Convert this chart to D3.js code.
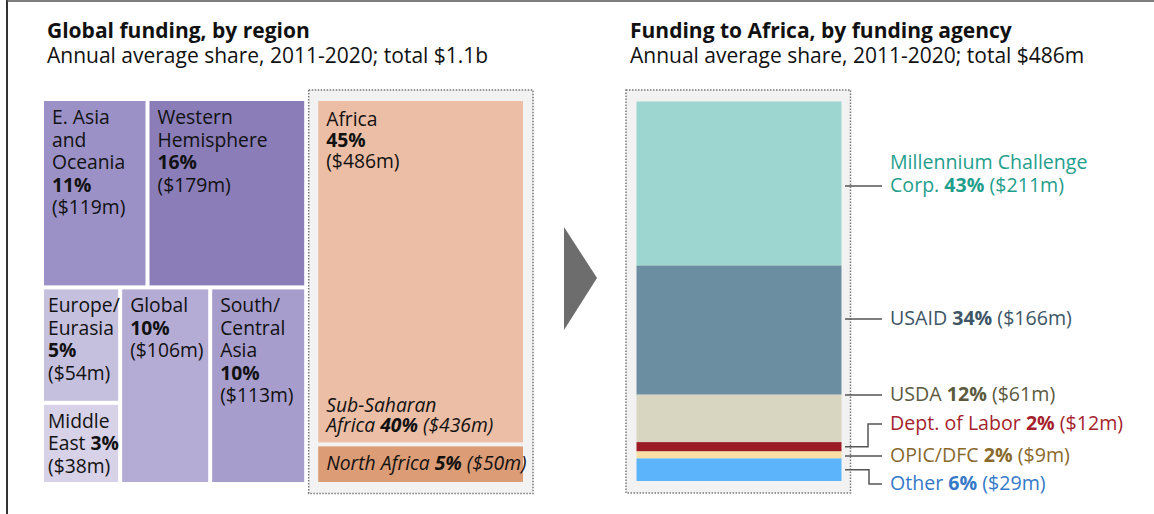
<!DOCTYPE html>
<html>
<head>
<meta charset="utf-8">
<script src="https://cdn.jsdelivr.net/npm/d3@7"></script>
<style>
body{margin:0;background:#fff;}
svg{display:block;font-family:"Open Sans",sans-serif;}
</style>
</head>
<body>
<svg class="myChart" width="1154" height="514"></svg>
<script>
// ---- data ----
const regions = ["E. Asia and Oceania","Western Hemisphere","Europe/Eurasia","Middle East","Global","South/Central Asia","Sub-Saharan Africa","North Africa"];
const regionValues = [119,179,54,38,106,113,436,50];
const regionShares = [11,16,5,3,10,10,40,5];
const regionNameLines = [["E. Asia","and","Oceania"],["Western","Hemisphere"],["Europe/","Eurasia"],["Middle","East"],["Global"],["South/","Central","Asia"],["Sub-Saharan","Africa"],["North Africa"]];
const regionColors = ["#9c91c6","#8a7db8","#c6c0df","#d7d2e8","#b5acd5","#a79dcc","#ecbea6","#dc9c76"];
const africaTotal = 486, africaShare = 45;

const agencies = ["Millennium Challenge Corp.","USAID","USDA","Dept. of Labor","OPIC/DFC","Other"];
const agencyValues = [211,166,61,12,9,29];
const agencyShares = [43,34,12,2,2,6];
const agencyNameLines = [["Millennium Challenge","Corp."],["USAID"],["USDA"],["Dept. of Labor"],["OPIC/DFC"],["Other"]];
const agencyColors = ["#9dd6d0","#6b8ea0","#d8d5c0","#9a1b24","#f8dfa4","#5cb4fb"];
const agencyTextColors = ["#1f9e8c","#3e5566","#5c5a3e","#a51f2e","#8a6a2c","#3579c8"];

// label layout (baseline of last label line, elbow x)
const agencyLabelY = [192,325,401,430,462,490];
const agencyElbowX = [862,862,862,868,868,869];

const svg = d3.select('svg.myChart');
const titleSize = 21, labelSize = 19.3, agencySize = 19.6;

// frame
svg.append('line').attr('x1',7).attr('x2',7).attr('y1',0).attr('y2',514).attr('stroke','#333').attr('stroke-width',2);
svg.append('line').attr('x1',7).attr('x2',1154).attr('y1',1).attr('y2',1).attr('stroke','#555').attr('stroke-width',1.5);

// titles
const titles = [
  {x:47, t:"Global funding, by region", s:"Annual average share, 2011-2020; total $1.1b"},
  {x:630, t:"Funding to Africa, by funding agency", s:"Annual average share, 2011-2020; total $486m"}
];
titles.forEach(d => {
  svg.append('text').attr('x',d.x).attr('y',38).attr('font-size',titleSize).attr('font-weight','bold').attr('fill','#111').text(d.t);
  svg.append('text').attr('x',d.x).attr('y',63).attr('font-size',titleSize).attr('fill','#111').text(d.s);
});

// helper: lines of segments
function drawLines(g, x, y, lines, lh, opts) {
  lines.forEach((segs, i) => {
    const t = g.append('text').attr('x',x).attr('y',y + i*lh).attr('font-size',opts.size||labelSize)
      .attr('fill',opts.color||'#111');
    if (opts.italic) t.attr('font-style','italic');
    segs.forEach(s => t.append('tspan').attr('font-weight', s.b ? 'bold' : null).text(s.t));
  });
}

// ---- treemap ----
const leaf = i => ({name:regions[i], i:i, value:regionValues[i]});
const tree = {name:"root", children:[
  {name:"rest", children:[
    {name:"top", children:[leaf(0), leaf(1)]},
    {name:"bottom", children:[{name:"col", children:[leaf(2), leaf(3)]}, leaf(4), leaf(5)]}
  ]},
  {name:"Africa", children:[leaf(6), leaf(7)]}
]};

const root = d3.hierarchy(tree).sum(d => d.value || 0);
d3.treemap()
  .tile(d3.treemapSliceDice)
  .size([523-44, 482-101])
  .paddingInner(n => n.depth === 0 ? 14 : 4)
  (root);

const tg = svg.append('g').attr('transform','translate(44,101)');

const africa = root.children[1];
tg.append('rect')
  .attr('x',africa.x0-9.5).attr('y',africa.y0-11)
  .attr('width',africa.x1-africa.x0+19.5).attr('height',africa.y1-africa.y0+22.5)
  .attr('fill','#f2f2f2').attr('stroke','#777').attr('stroke-width',1.5).attr('stroke-dasharray','1.5,1.5');

const leaves = root.leaves();
tg.selectAll('rect.cell').data(leaves).enter().append('rect').attr('class','cell')
  .attr('x',d => d.x0).attr('y',d => d.y0)
  .attr('width',d => d.x1-d.x0).attr('height',d => d.y1-d.y0)
  .attr('fill',d => regionColors[d.data.i]);

leaves.forEach(d => {
  const i = d.data.i;
  const w = d.x1 - d.x0, h = d.y1 - d.y0;
  const pct = regionShares[i] + "%", val = "($" + regionValues[i] + "m)";
  const names = regionNameLines[i].map(n => [{t:n}]);
  const x = d.x0 + (w < 80 ? 4 : 8);
  if (d.parent === africa) {
    names[names.length-1].push({t:" "+pct, b:true}, {t:" "+val});
    if (names.length > 1) {
      drawLines(tg, x, d.y1 - 10 - (names.length-1)*20.5, names, 20.5, {italic:true});
      drawLines(tg, x, d.y0 + 25, [[{t:"Africa"}],[{t:africaShare+"%", b:true}],[{t:"($"+africaTotal+"m)"}]], 21, {});
    } else {
      drawLines(tg, x, (d.y0+d.y1)/2 + 6, names, 20, {italic:true});
    }
  } else if (h < 100) {
    names[names.length-1].push({t:" "+pct, b:true});
    names.push([{t:val}]);
    drawLines(tg, x, d.y0 + 23, names, 22.5, {});
  } else {
    names.push([{t:pct, b:true}], [{t:val}]);
    drawLines(tg, x, d.y0 + 23, names, 22.5, {});
  }
});

// arrow
svg.append('path').attr('d','M564,227 L597,278 L564,330 Z').attr('fill','#6d6d6d');

// ---- stacked bar ----
const y = d3.scaleLinear().domain([0, d3.sum(agencyValues)]).range([101.5, 481]);
const x = d3.scaleBand().domain(["Africa"]).range([636.5, 841.5]);
const stack = [];
agencyValues.reduce((acc, v, i) => { stack.push({i:i, a:acc, b:acc+v}); return acc+v; }, 0);

svg.append('rect').attr('x',626).attr('y',90).attr('width',224.5).attr('height',403)
  .attr('fill','#f2f2f2').attr('stroke','#777').attr('stroke-width',1.5).attr('stroke-dasharray','1.5,1.5');

svg.selectAll('rect.seg').data(stack).enter().append('rect').attr('class','seg')
  .attr('x', x("Africa")).attr('width', x.bandwidth())
  .attr('y', d => y(d.a)).attr('height', d => y(d.b)-y(d.a))
  .attr('fill', d => agencyColors[d.i]);

// labels + connectors
stack.forEach(d => {
  const i = d.i;
  const ly = agencyLabelY[i];
  const cy = ly - 6;
  const top = y(d.a), bot = y(d.b);
  const x0 = 845, x1 = 882;
  let path;
  if (cy >= top && cy <= bot) path = `M${x0},${cy} H${x1}`;
  else {
    const my = (top+bot)/2, ex = agencyElbowX[i];
    path = `M${x0},${my} H${ex} V${cy} H${x1}`;
  }
  svg.append('path').attr('d',path).attr('fill','none').attr('stroke','#555').attr('stroke-width',1.5);
  const names = agencyNameLines[i].map(n => [{t:n}]);
  names[names.length-1].push({t:" "+agencyShares[i]+"%", b:true}, {t:" ($"+agencyValues[i]+"m)"});
  drawLines(svg, 890, ly - (names.length-1)*23, names, 23, {color:agencyTextColors[i], size:agencySize});
});
</script>
</body>
</html>
